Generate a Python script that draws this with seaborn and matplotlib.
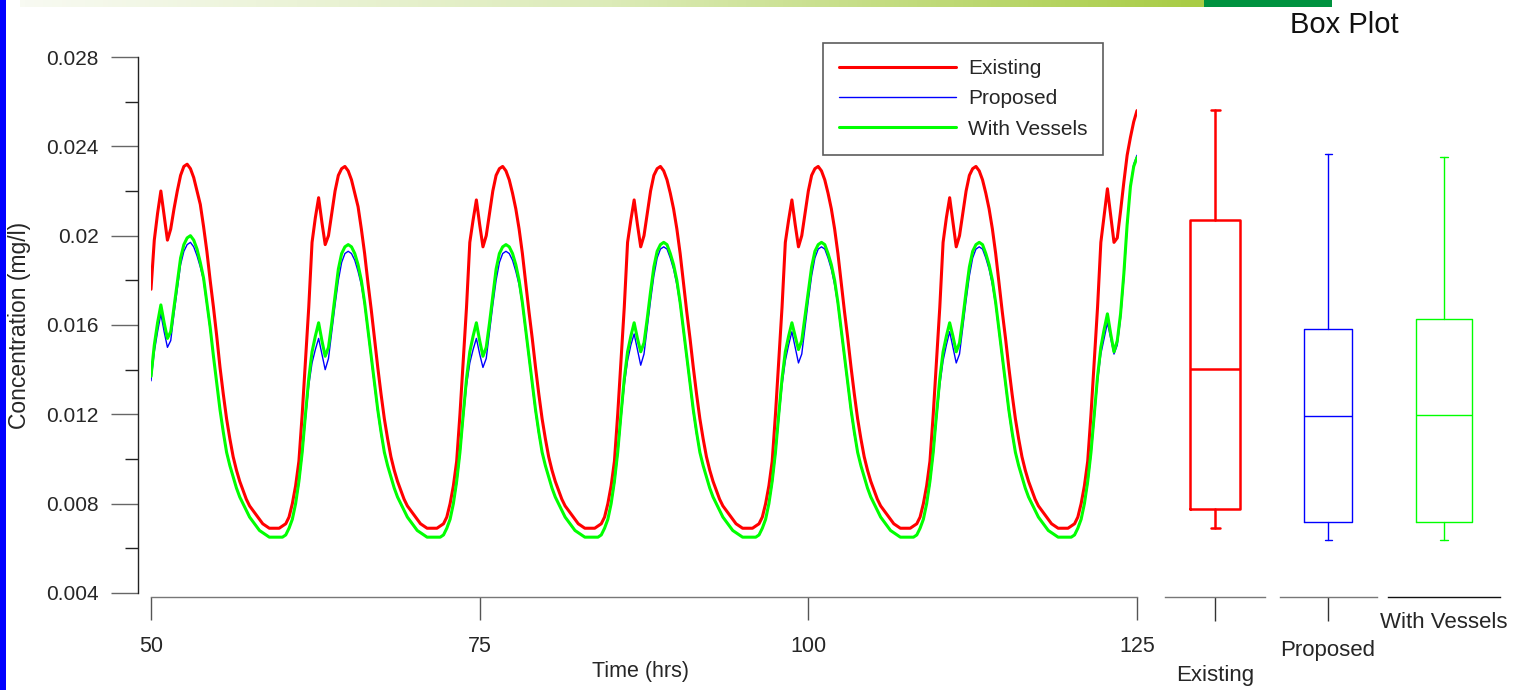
import numpy as np
import pandas as pd
import matplotlib
matplotlib.use("Agg")
import matplotlib.pyplot as plt
from matplotlib import font_manager
from matplotlib.colors import LinearSegmentedColormap
from matplotlib.lines import Line2D
from matplotlib.patches import Rectangle
from matplotlib.ticker import FixedLocator, FixedFormatter
import seaborn as sns

# ---------------------------------------------------------------- data
# sample times (hrs), 15-minute record
time_hrs = np.arange(50.0, 125.0 + 1e-9, 0.25)

existing = [
    0.0176, 0.0198, 0.0210, 0.0220, 0.0209, 0.0198, 0.0203, 0.0212, 0.0220, 0.0227, 0.0231, 0.0232, 0.0230, 0.0226, 0.0220, 0.0214, 0.0204, 0.0193, 0.0180, 0.0168, 0.0155, 0.0141, 0.0129, 0.0118, 0.0109, 0.0101, 0.0095, 0.0090, 0.0086, 0.0082, 0.0079, 0.0077, 0.0075, 0.0073, 0.0071, 0.0070, 0.0069, 0.0069, 0.0069, 0.0069, 0.0070, 0.0071, 0.0074, 0.0080, 0.0088, 0.0099, 0.0120, 0.0144,
    0.0168, 0.0197, 0.0208, 0.0217, 0.0206, 0.0196, 0.0200, 0.0210, 0.0220, 0.0227, 0.0230, 0.0231, 0.0229, 0.0225, 0.0219, 0.0213, 0.0203, 0.0192, 0.0179, 0.0167, 0.0154, 0.0141, 0.0129, 0.0118, 0.0109, 0.0101, 0.0095, 0.0090, 0.0086, 0.0082, 0.0079, 0.0077, 0.0075, 0.0073, 0.0071, 0.0070, 0.0069, 0.0069, 0.0069, 0.0069, 0.0070, 0.0071, 0.0074, 0.0080, 0.0088, 0.0099, 0.0120, 0.0144,
    0.0168, 0.0197, 0.0207, 0.0216, 0.0205, 0.0195, 0.0200, 0.0210, 0.0220, 0.0227, 0.0230, 0.0231, 0.0229, 0.0225, 0.0219, 0.0212, 0.0203, 0.0192, 0.0179, 0.0166, 0.0154, 0.0141, 0.0129, 0.0118, 0.0109, 0.0101, 0.0095, 0.0090, 0.0086, 0.0082, 0.0079, 0.0077, 0.0075, 0.0073, 0.0071, 0.0070, 0.0069, 0.0069, 0.0069, 0.0069, 0.0070, 0.0071, 0.0074, 0.0080, 0.0088, 0.0099, 0.0120, 0.0144,
    0.0168, 0.0197, 0.0207, 0.0216, 0.0205, 0.0195, 0.0200, 0.0210, 0.0220, 0.0227, 0.0230, 0.0231, 0.0229, 0.0225, 0.0219, 0.0212, 0.0203, 0.0192, 0.0179, 0.0166, 0.0154, 0.0141, 0.0129, 0.0118, 0.0109, 0.0101, 0.0095, 0.0090, 0.0086, 0.0082, 0.0079, 0.0077, 0.0075, 0.0073, 0.0071, 0.0070, 0.0069, 0.0069, 0.0069, 0.0069, 0.0070, 0.0071, 0.0074, 0.0080, 0.0088, 0.0099, 0.0120, 0.0144,
    0.0168, 0.0197, 0.0207, 0.0216, 0.0205, 0.0195, 0.0200, 0.0210, 0.0220, 0.0227, 0.0230, 0.0231, 0.0229, 0.0225, 0.0219, 0.0212, 0.0203, 0.0192, 0.0179, 0.0166, 0.0154, 0.0141, 0.0129, 0.0118, 0.0109, 0.0101, 0.0095, 0.0090, 0.0086, 0.0082, 0.0079, 0.0077, 0.0075, 0.0073, 0.0071, 0.0070, 0.0069, 0.0069, 0.0069, 0.0069, 0.0070, 0.0071, 0.0074, 0.0080, 0.0088, 0.0099, 0.0120, 0.0144,
    0.0168, 0.0197, 0.0208, 0.0217, 0.0206, 0.0195, 0.0200, 0.0210, 0.0220, 0.0227, 0.0230, 0.0231, 0.0229, 0.0225, 0.0219, 0.0212, 0.0203, 0.0192, 0.0179, 0.0166, 0.0154, 0.0141, 0.0129, 0.0118, 0.0109, 0.0101, 0.0095, 0.0090, 0.0086, 0.0082, 0.0079, 0.0077, 0.0075, 0.0073, 0.0071, 0.0070, 0.0069, 0.0069, 0.0069, 0.0069, 0.0070, 0.0071, 0.0074, 0.0080, 0.0088, 0.0099, 0.0120, 0.0144,
    0.0168, 0.0197, 0.0209, 0.0221, 0.0209, 0.0197, 0.0199, 0.0211, 0.0224, 0.0236, 0.0244, 0.0251, 0.0256,
]

proposed = [
    0.0135, 0.0148, 0.0157, 0.0165, 0.0157, 0.0150, 0.0153, 0.0165, 0.0176, 0.0187, 0.0193, 0.0196, 0.0197, 0.0195, 0.0191, 0.0186, 0.0180, 0.0169, 0.0158, 0.0146, 0.0134, 0.0122, 0.0112, 0.0103, 0.0097, 0.0092, 0.0087, 0.0083, 0.0080, 0.0077, 0.0074, 0.0072, 0.0070, 0.0068, 0.0067, 0.0066, 0.0065, 0.0065, 0.0065, 0.0065, 0.0065, 0.0066, 0.0069, 0.0073, 0.0080, 0.0089, 0.0102, 0.0118,
    0.0133, 0.0143, 0.0149, 0.0154, 0.0147, 0.0140, 0.0145, 0.0157, 0.0169, 0.0180, 0.0188, 0.0192, 0.0193, 0.0192, 0.0189, 0.0184, 0.0178, 0.0169, 0.0157, 0.0145, 0.0133, 0.0121, 0.0111, 0.0103, 0.0097, 0.0092, 0.0087, 0.0083, 0.0080, 0.0077, 0.0074, 0.0072, 0.0070, 0.0068, 0.0067, 0.0066, 0.0065, 0.0065, 0.0065, 0.0065, 0.0065, 0.0066, 0.0069, 0.0073, 0.0080, 0.0089, 0.0102, 0.0118,
    0.0133, 0.0143, 0.0149, 0.0154, 0.0147, 0.0141, 0.0145, 0.0157, 0.0169, 0.0180, 0.0188, 0.0192, 0.0193, 0.0192, 0.0189, 0.0184, 0.0178, 0.0169, 0.0157, 0.0145, 0.0133, 0.0121, 0.0111, 0.0103, 0.0097, 0.0092, 0.0087, 0.0083, 0.0080, 0.0077, 0.0074, 0.0072, 0.0070, 0.0068, 0.0067, 0.0066, 0.0065, 0.0065, 0.0065, 0.0065, 0.0065, 0.0066, 0.0069, 0.0073, 0.0080, 0.0089, 0.0102, 0.0118,
    0.0133, 0.0144, 0.0151, 0.0156, 0.0149, 0.0142, 0.0147, 0.0159, 0.0171, 0.0182, 0.0190, 0.0194, 0.0195, 0.0194, 0.0190, 0.0185, 0.0178, 0.0169, 0.0157, 0.0145, 0.0133, 0.0121, 0.0111, 0.0103, 0.0097, 0.0092, 0.0087, 0.0083, 0.0080, 0.0077, 0.0074, 0.0072, 0.0070, 0.0068, 0.0067, 0.0066, 0.0065, 0.0065, 0.0065, 0.0065, 0.0065, 0.0066, 0.0069, 0.0073, 0.0080, 0.0089, 0.0102, 0.0118,
    0.0133, 0.0144, 0.0151, 0.0157, 0.0150, 0.0143, 0.0147, 0.0159, 0.0171, 0.0182, 0.0190, 0.0194, 0.0195, 0.0194, 0.0190, 0.0185, 0.0178, 0.0169, 0.0157, 0.0145, 0.0133, 0.0121, 0.0111, 0.0103, 0.0097, 0.0092, 0.0087, 0.0083, 0.0080, 0.0077, 0.0074, 0.0072, 0.0070, 0.0068, 0.0067, 0.0066, 0.0065, 0.0065, 0.0065, 0.0065, 0.0065, 0.0066, 0.0069, 0.0073, 0.0080, 0.0089, 0.0102, 0.0118,
    0.0133, 0.0144, 0.0151, 0.0157, 0.0150, 0.0143, 0.0147, 0.0159, 0.0171, 0.0182, 0.0190, 0.0194, 0.0195, 0.0194, 0.0190, 0.0185, 0.0178, 0.0169, 0.0157, 0.0145, 0.0133, 0.0121, 0.0111, 0.0103, 0.0097, 0.0092, 0.0087, 0.0083, 0.0080, 0.0077, 0.0074, 0.0072, 0.0070, 0.0068, 0.0067, 0.0066, 0.0065, 0.0065, 0.0065, 0.0065, 0.0065, 0.0066, 0.0069, 0.0073, 0.0080, 0.0089, 0.0102, 0.0118,
    0.0135, 0.0147, 0.0154, 0.0161, 0.0154, 0.0147, 0.0151, 0.0163, 0.0181, 0.0204, 0.0222, 0.0232, 0.0236,
]

with_vessels = [
    0.0137, 0.0151, 0.0161, 0.0169, 0.0161, 0.0154, 0.0157, 0.0168, 0.0179, 0.0190, 0.0196, 0.0199, 0.0200, 0.0198, 0.0194, 0.0188, 0.0181, 0.0170, 0.0159, 0.0146, 0.0134, 0.0122, 0.0112, 0.0103, 0.0097, 0.0092, 0.0087, 0.0083, 0.0080, 0.0077, 0.0074, 0.0072, 0.0070, 0.0068, 0.0067, 0.0066, 0.0065, 0.0065, 0.0065, 0.0065, 0.0065, 0.0066, 0.0069, 0.0073, 0.0080, 0.0090, 0.0103, 0.0120,
    0.0136, 0.0148, 0.0155, 0.0161, 0.0153, 0.0146, 0.0150, 0.0161, 0.0173, 0.0185, 0.0192, 0.0195, 0.0196, 0.0195, 0.0192, 0.0187, 0.0180, 0.0170, 0.0158, 0.0146, 0.0134, 0.0122, 0.0112, 0.0103, 0.0097, 0.0092, 0.0087, 0.0083, 0.0080, 0.0077, 0.0074, 0.0072, 0.0070, 0.0068, 0.0067, 0.0066, 0.0065, 0.0065, 0.0065, 0.0065, 0.0065, 0.0066, 0.0069, 0.0073, 0.0080, 0.0090, 0.0103, 0.0120,
    0.0136, 0.0148, 0.0155, 0.0161, 0.0153, 0.0146, 0.0150, 0.0161, 0.0173, 0.0185, 0.0192, 0.0195, 0.0196, 0.0195, 0.0192, 0.0187, 0.0180, 0.0170, 0.0158, 0.0146, 0.0134, 0.0122, 0.0112, 0.0103, 0.0097, 0.0092, 0.0087, 0.0083, 0.0080, 0.0077, 0.0074, 0.0072, 0.0070, 0.0068, 0.0067, 0.0066, 0.0065, 0.0065, 0.0065, 0.0065, 0.0065, 0.0066, 0.0069, 0.0073, 0.0080, 0.0090, 0.0103, 0.0120,
    0.0136, 0.0148, 0.0155, 0.0161, 0.0154, 0.0148, 0.0152, 0.0163, 0.0175, 0.0186, 0.0193, 0.0196, 0.0197, 0.0196, 0.0192, 0.0187, 0.0180, 0.0170, 0.0158, 0.0146, 0.0134, 0.0122, 0.0112, 0.0103, 0.0097, 0.0092, 0.0087, 0.0083, 0.0080, 0.0077, 0.0074, 0.0072, 0.0070, 0.0068, 0.0067, 0.0066, 0.0065, 0.0065, 0.0065, 0.0065, 0.0065, 0.0066, 0.0069, 0.0073, 0.0080, 0.0090, 0.0103, 0.0120,
    0.0136, 0.0148, 0.0155, 0.0161, 0.0155, 0.0149, 0.0153, 0.0164, 0.0175, 0.0186, 0.0193, 0.0196, 0.0197, 0.0196, 0.0192, 0.0187, 0.0180, 0.0170, 0.0158, 0.0146, 0.0134, 0.0122, 0.0112, 0.0103, 0.0097, 0.0092, 0.0087, 0.0083, 0.0080, 0.0077, 0.0074, 0.0072, 0.0070, 0.0068, 0.0067, 0.0066, 0.0065, 0.0065, 0.0065, 0.0065, 0.0065, 0.0066, 0.0069, 0.0073, 0.0080, 0.0090, 0.0103, 0.0120,
    0.0136, 0.0148, 0.0155, 0.0161, 0.0155, 0.0148, 0.0152, 0.0163, 0.0175, 0.0186, 0.0193, 0.0196, 0.0197, 0.0196, 0.0192, 0.0187, 0.0180, 0.0170, 0.0158, 0.0146, 0.0134, 0.0122, 0.0112, 0.0103, 0.0097, 0.0092, 0.0087, 0.0083, 0.0080, 0.0077, 0.0074, 0.0072, 0.0070, 0.0068, 0.0067, 0.0066, 0.0065, 0.0065, 0.0065, 0.0065, 0.0065, 0.0066, 0.0069, 0.0073, 0.0080, 0.0090, 0.0103, 0.0120,
    0.0137, 0.0150, 0.0158, 0.0165, 0.0156, 0.0148, 0.0153, 0.0165, 0.0183, 0.0205, 0.0222, 0.0231, 0.0235,
]

scenarios = ["Existing", "Proposed", "With Vessels"]
colors = {"Existing": "#ff0000", "Proposed": "#0000ff", "With Vessels": "#00ff00"}
line_widths = {"Existing": 2.2, "Proposed": 1.0, "With Vessels": 2.2}

# box-plot summary per scenario: whisker low, Q1, median, Q3, whisker high
box_whislo = [0.00689, 0.00639, 0.00639]
box_q1 = [0.00778, 0.00718, 0.00718]
box_median = [0.01403, 0.01193, 0.01197]
box_q3 = [0.02070, 0.01583, 0.01627]
box_whishi = [0.02563, 0.02366, 0.02352]

x_ticks = [50, 75, 100, 125]
y_ticks = [0.004, 0.008, 0.012, 0.016, 0.020, 0.024, 0.028]
y_tick_labels = ["0.004", "0.008", "0.012", "0.016", "0.02", "0.024", "0.028"]
y_minor_ticks = [0.006, 0.010, 0.014, 0.018, 0.022, 0.026]

# ---------------------------------------------------------------- style
sns.set_theme(style="white")


def have_font(name):
    try:
        font_manager.findfont(name, fallback_to_default=False)
        return True
    except Exception:
        return False


BASE = "Liberation Sans"
HAS_NARROW = have_font("Liberation Sans Narrow")
NARROW = "Liberation Sans Narrow" if HAS_NARROW else BASE
plt.rcParams["font.family"] = [BASE, "DejaVu Sans"]

W, H = 1522, 690
PX = 72.0 / 100.0  # points per pixel


def rect(l, t, r, b):
    return [l / W, 1 - b / H, (r - l) / W, (b - t) / H]


fig = plt.figure(figsize=(W / 100, H / 100), dpi=100)

# ---------------------------------------------------------------- page decoration
band = fig.add_axes(rect(20, 0, 1204, 7))
band.imshow(np.linspace(0, 1, 256)[None, :], aspect="auto",
            cmap=LinearSegmentedColormap.from_list("band", ["#f8faf2", "#dcebb8", "#a8cc44"]))
band.axis("off")
fig.add_artist(Rectangle((1204 / W, 1 - 7 / H), (1332 - 1204) / W, 7 / H,
                         transform=fig.transFigure, color="#00923f", lw=0))
fig.add_artist(Rectangle((0, 0), 6 / W, 1, transform=fig.transFigure, color="#0000ff", lw=0))

# ---------------------------------------------------------------- time series
df = pd.DataFrame({
    "Time (hrs)": np.concatenate([time_hrs] * 3),
    "Concentration": np.concatenate([existing, proposed, with_vessels]),
    "Scenario": np.repeat(scenarios, len(time_hrs)),
})

ax = fig.add_axes(rect(151, 57, 1137, 593))
sns.lineplot(data=df, x="Time (hrs)", y="Concentration", hue="Scenario",
             hue_order=scenarios, palette=colors, size="Scenario",
             size_order=scenarios, sizes=line_widths, legend=False, ax=ax,
             estimator=None, sort=False)

ax.set_xlim(50, 125)
ax.set_ylim(0.004, 0.028)
for side in ("top", "right"):
    ax.spines[side].set_visible(False)
ax.spines["left"].set_position(("outward", 13 * PX))
ax.spines["bottom"].set_position(("outward", 4 * PX))
ax.spines["left"].set_bounds(0.004, 0.028)
ax.spines["bottom"].set_bounds(50, 125)
ax.spines["left"].set_color("#222222")
ax.spines["bottom"].set_color("#777777")
ax.spines["left"].set_linewidth(1.0)
ax.spines["bottom"].set_linewidth(1.0)

xfont = 17 if HAS_NARROW else 15.5
ax.xaxis.set_major_locator(FixedLocator(x_ticks))
ax.yaxis.set_major_locator(FixedLocator(y_ticks))
ax.yaxis.set_major_formatter(FixedFormatter(y_tick_labels))
ax.yaxis.set_minor_locator(FixedLocator(y_minor_ticks))
ax.tick_params(axis="y", which="major", direction="out", length=27 * PX, width=1.0,
               color="#666666", pad=9, labelsize=15, left=True)
ax.tick_params(axis="y", which="minor", direction="out", length=13 * PX, width=1.0,
               color="#222222", left=True)
ax.tick_params(axis="x", which="major", direction="out", length=23 * PX, width=1.0,
               color="#555555", pad=11.5, labelsize=xfont, bottom=True)
for lab in ax.get_xticklabels():
    lab.set_family([NARROW, "DejaVu Sans"])

ax.set_xlabel("Time (hrs)", fontsize=xfont, family=[NARROW, "DejaVu Sans"])
ax.xaxis.set_label_coords((640 - 151) / 986, (593 - 671) / 536)
ax.xaxis.label.set_va("center")
ax.set_ylabel("Concentration (mg/l)", fontsize=16.5)
ax.yaxis.set_label_coords((20 - 151) / 986, 0.5)
ax.yaxis.label.set_rotation_mode("default")
ax.yaxis.label.set_va("center")
ax.yaxis.label.set_ha("center")

handles = [Line2D([], [], color=colors[s], lw=line_widths[s]) for s in scenarios]
leg = ax.legend(handles, scenarios, loc="upper left",
                bbox_to_anchor=(823 / W, 1 - 43 / H), bbox_transform=fig.transFigure,
                borderaxespad=0, frameon=True, fancybox=False, fontsize=15,
                handlelength=5.6, handletextpad=0.58, labelspacing=0.54,
                borderpad=0.77)
leg.get_frame().set_edgecolor("#333333")
leg.get_frame().set_linewidth(1.2)

# ---------------------------------------------------------------- box plots
box_layout = [
    # baseline left, baseline right, box centre, box width, cap width (px)
    (1165, 1265, 1215, 50, 9),
    (1280, 1377, 1328, 48, 7),
    (1388, 1500, 1444, 56, 8),
]
box_lw = [1.8, 1.0, 1.0]
label_tick_len = [24, 24, 0]
label_pad = [31.5, 13.6, 10.8]
base_colors = ["#777777", "#777777", "#111111"]

for i, name in enumerate(scenarios):
    left, right, centre, bw, cw = box_layout[i]
    bx = fig.add_axes(rect(left, 57, right, 593))
    stats = [dict(med=box_median[i], q1=box_q1[i], q3=box_q3[i],
                  whislo=box_whislo[i], whishi=box_whishi[i], fliers=[], label=name)]
    style = dict(color=colors[name], linewidth=box_lw[i])
    bx.bxp(stats, positions=[0], widths=1.0, capwidths=cw / bw, showfliers=False,
           boxprops=style, whiskerprops=style, capprops=style, medianprops=style)
    bx.set_xlim(-(centre - left) / bw, (right - centre) / bw)
    bx.set_ylim(0.004, 0.028)
    bx.set_facecolor("none")
    for side in ("top", "right", "left"):
        bx.spines[side].set_visible(False)
    bx.spines["bottom"].set_position(("outward", 4 * PX))
    bx.spines["bottom"].set_color(base_colors[i])
    bx.spines["bottom"].set_linewidth(1.0)
    bx.set_yticks([])
    bx.set_xticks([0], [name])
    bx.tick_params(axis="x", direction="out", length=label_tick_len[i] * PX, width=1.0,
                   color="#333333", pad=label_pad[i], labelsize=16, bottom=True)

fig.text(1344 / W, 1 - 25 / H, "Box Plot", fontsize=24 if HAS_NARROW else 21,
         ha="center", va="center", family=[NARROW, "DejaVu Sans"], color="#111111")

fig.savefig("out.png", dpi=100)
